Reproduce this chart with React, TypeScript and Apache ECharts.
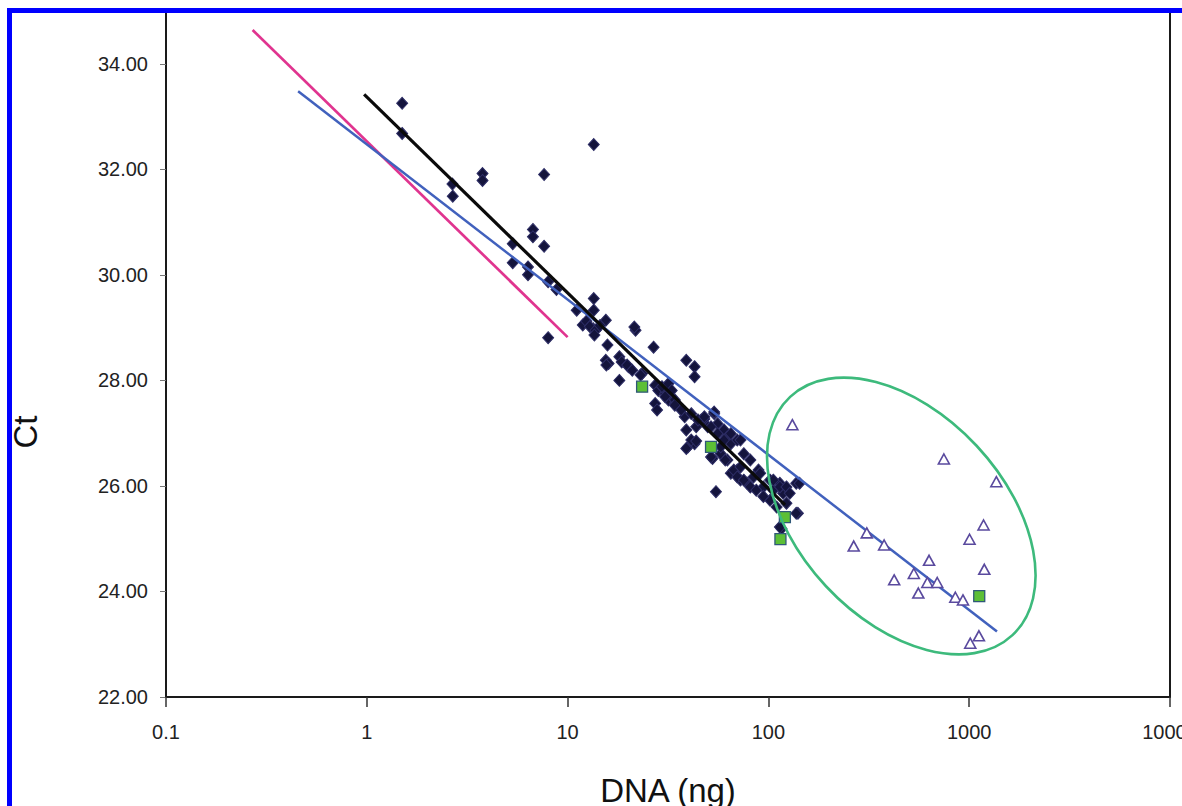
import { useEffect, useRef } from "react";
import * as echarts from "echarts";

const xTickLabels = ["0.1", "1", "10", "100", "1000", "10000"];
const yMin = 22;
const yMax = 35;
const yInterval = 2;

const diamonds: [number, number][] = [
  [1.5, 33.25], [1.5, 32.68], [2.67, 31.72], [2.68, 31.49], [3.77, 31.92], [3.77, 31.79], [7.64, 31.9], [13.5, 32.47],
  [6.72, 30.86], [6.72, 30.72], [7.64, 30.54], [5.33, 30.59], [5.33, 30.23], [6.35, 30.15], [6.35, 30.0], [8.0, 29.87],
  [8.8, 29.72], [8.0, 28.81], [11.1, 29.33], [13.5, 29.55], [13.5, 29.33], [11.9, 29.05], [13.4, 28.98], [15.5, 29.14],
  [15.8, 28.67], [12.4, 29.12], [12.9, 29.02], [13.8, 28.95], [14.5, 29.04], [13.6, 28.86],
  [21.8, 28.95], [21.5, 29.01], [26.8, 28.63],
  [15.5, 28.38], [16.0, 28.32], [15.6, 28.29], [18.1, 28.45], [18.6, 28.35], [20.1, 28.26], [23.5, 28.13], [18.1, 28.0],
  [19.8, 28.29], [21.0, 28.19], [23.1, 28.1],
  [27.3, 27.91], [28.3, 27.81], [30.6, 27.75], [31.8, 27.63], [27.3, 27.56], [27.9, 27.44],
  [39.0, 28.38], [42.9, 28.26], [42.9, 28.07],
  [34.2, 27.56], [38.3, 27.31], [39.0, 27.06], [39.8, 26.74], [42.9, 26.8],
  [46.3, 27.25], [49.9, 27.12], [53.7, 27.37], [55.8, 27.18], [60.1, 27.06], [62.5, 26.93], [65.0, 26.8],
  [52.7, 26.52], [54.8, 25.89],
  [65.0, 26.24], [70.0, 26.3], [72.6, 26.11], [78.3, 26.05], [84.3, 26.17], [89.3, 26.3], [94.4, 25.98], [101.9, 26.11],
  [105.8, 25.92], [101.9, 25.73], [114.1, 26.05], [118.4, 25.86], [123, 25.67], [137.6, 26.05], [140.3, 25.48],
  [116.2, 25.19],
  [29.5, 27.88], [31.8, 27.94], [33.0, 27.81], [30.6, 27.69], [34.2, 27.63], [36.2, 27.5],
  [43.7, 27.12], [41.3, 26.87], [39.0, 26.71],
  [48.0, 27.27], [51.8, 27.12], [55.8, 26.99], [60.1, 26.87], [65.0, 26.99], [70.0, 26.87], [57.9, 26.61], [62.5, 26.49],
  [67.3, 26.3], [72.6, 26.36],
  [34.2, 27.53], [36.8, 27.44], [41.3, 27.37], [44.6, 27.25], [48.0, 27.31], [53.7, 27.4],
  [43.7, 26.85], [51.8, 26.55], [57.9, 26.74], [61.0, 26.49],
  [72.6, 26.87], [75.4, 26.61], [81.3, 26.49],
  [70.0, 26.17], [75.4, 26.11], [81.3, 25.98], [87.0, 25.92],
  [91.0, 26.24], [94.4, 25.8], [105.8, 26.11], [114.1, 25.98], [123, 25.98], [127.7, 25.86], [109.9, 25.6], [137.6, 25.48],
  [143, 26.05], [114.1, 25.22],
];

const triangles: [number, number][] = [
  [131.6, 27.16], [748, 26.51], [1365, 26.08], [1179, 25.26], [1004, 24.99], [309, 25.11], [266, 24.86], [377, 24.88],
  [631, 24.59], [530, 24.34], [1189, 24.42], [423, 24.22], [619, 24.17], [693, 24.17], [558, 23.97], [853, 23.89],
  [931, 23.84], [1118, 23.16], [1012, 23.02],
];

const greenSquares: [number, number][] = [
  [23.5, 27.88], [51.8, 26.74], [120.8, 25.41], [114.8, 24.99], [1122, 23.91],
];

const pinkFit: [number, number][] = [[0.27, 34.64], [10, 28.82]];
const blueFit: [number, number][] = [[0.455, 33.48], [1375, 23.24]];
const blackFit: [number, number][] = [[0.97, 33.42], [121, 25.64]];

const ellipseCenter: [number, number] = [459, 25.43];

const FONT = '"Liberation Sans", Arial, Helvetica, sans-serif';

export default function App() {
  const ref = useRef<HTMLDivElement>(null);
  useEffect(() => {
    const chart = echarts.init(ref.current!, null, { renderer: "svg" });
    chart.setOption({
      animation: false,
      backgroundColor: "#ffffff",
      grid: {
        left: 158,
        right: 12,
        top: 3,
        bottom: 109,
        containLabel: false,
        outerBoundsMode: "none",
        show: true,
        borderColor: "#1a1a1a",
        borderWidth: 2,
        backgroundColor: "transparent",
      },
      xAxis: {
        type: "log",
        logBase: 10,
        min: 0.1,
        max: 10000,
        name: "DNA (ng)",
        nameLocation: "middle",
        nameGap: 77,
        nameTextStyle: { fontFamily: FONT, fontSize: 33, color: "#111" },
        axisLine: { lineStyle: { color: "#1a1a1a", width: 2 } },
        axisTick: { show: true, length: 10, lineStyle: { color: "#333", width: 1.5 } },
        minorTick: { show: false },
        splitLine: { show: false },
        axisLabel: {
          fontFamily: FONT,
          fontSize: 20,
          color: "#222",
          margin: 25,
          hideOverlap: false,
          formatter: (v: number) => {
            const idx = Math.round(Math.log10(v)) + 1;
            return xTickLabels[idx] ?? "";
          },
        },
      },
      yAxis: {
        type: "value",
        min: yMin,
        max: yMax,
        interval: yInterval,
        axisLine: { show: true, lineStyle: { color: "#1a1a1a", width: 2 } },
        axisTick: { show: true, length: 6, lineStyle: { color: "#777", width: 1 } },
        splitLine: { show: false },
        axisLabel: {
          fontFamily: FONT,
          fontSize: 20,
          color: "#222",
          margin: 18,
          formatter: (v: number) => ((v - yMin) % yInterval === 0 ? v.toFixed(2) : ""),
        },
      },
      series: [
        {
          type: "scatter",
          data: diamonds,
          symbol: "diamond",
          symbolSize: [11, 12],
          itemStyle: { color: "#14143c", borderColor: "#2e2e66", borderWidth: 1, opacity: 1 },
          z: 2,
        },
        {
          type: "line",
          data: pinkFit,
          symbol: "none",
          lineStyle: { color: "#e0348f", width: 2.7 },
          z: 3,
        },
        {
          type: "line",
          data: blueFit,
          symbol: "none",
          lineStyle: { color: "#4161bd", width: 2.5 },
          z: 3,
        },
        {
          type: "line",
          data: blackFit,
          symbol: "none",
          lineStyle: { color: "#0a0a0a", width: 3.2 },
          z: 4,
        },
        {
          type: "scatter",
          data: triangles,
          symbol: "triangle",
          symbolSize: [11, 10],
          itemStyle: { color: "#ffffff", borderColor: "#5a4a9e", borderWidth: 1.6, opacity: 1 },
          z: 5,
        },
        {
          type: "scatter",
          data: greenSquares,
          symbol: "rect",
          symbolSize: 11,
          itemStyle: { color: "#5cbf36", borderColor: "#2f5878", borderWidth: 1.3, opacity: 1 },
          z: 6,
        },
      ],
    });
    const c = chart.convertToPixel({ gridIndex: 0 }, ellipseCenter) as number[];
    chart.setOption({
      graphic: [
        {
          type: "ellipse",
          x: c[0],
          y: c[1],
          rotation: (-47 * Math.PI) / 180,
          shape: { cx: 0, cy: 0, rx: 163, ry: 103 },
          style: { fill: "none", stroke: "#3dba7c", lineWidth: 2.6 },
          z: 10,
        },
        {
          type: "text",
          x: 17,
          y: 424,
          rotation: Math.PI / 2,
          style: {
            text: "Ct",
            font: `33px ${FONT}`,
            fill: "#111",
            textAlign: "center",
            textVerticalAlign: "middle",
            align: "center",
            verticalAlign: "middle",
          },
          z: 10,
        },
      ],
    });
    return () => chart.dispose();
  }, []);
  return (
    <div
      style={{
        position: "fixed",
        left: 0,
        top: 0,
        width: 1182,
        height: 806,
        overflow: "hidden",
        background: "#ffffff",
      }}
    >
      <div ref={ref} style={{ position: "absolute", left: 8, top: 8, width: 1174, height: 798 }} />
      <div style={{ position: "absolute", left: 7, top: 8, width: 1175, height: 5, background: "#0000ff" }} />
      <div style={{ position: "absolute", left: 7, top: 8, width: 5, height: 798, background: "#0000ff" }} />
    </div>
  );
}
